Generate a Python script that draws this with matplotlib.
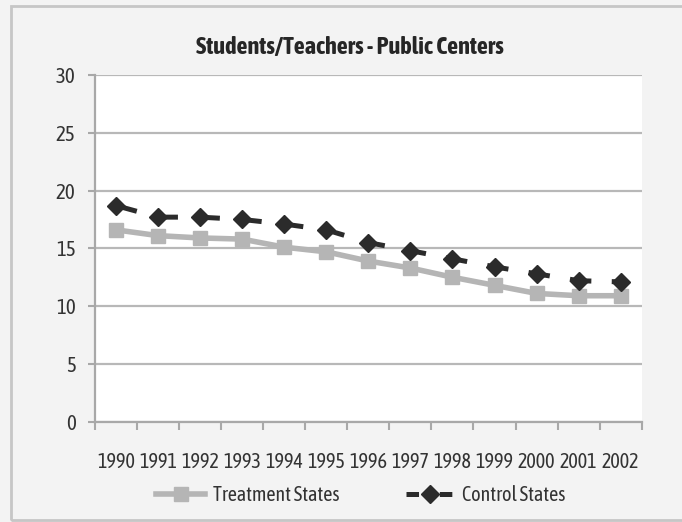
import matplotlib
matplotlib.use("Agg")
import matplotlib.pyplot as plt
import matplotlib.patches as patches
from matplotlib import font_manager

years = ["1990", "1991", "1992", "1993", "1994", "1995", "1996",
         "1997", "1998", "1999", "2000", "2001", "2002"]
treatment = [16.6, 16.1, 15.9, 15.8, 15.1, 14.7, 13.9,
             13.3, 12.5, 11.8, 11.1, 10.9, 10.9]
control = [18.7, 17.7, 17.7, 17.5, 17.1, 16.6, 15.5,
           14.8, 14.1, 13.4, 12.8, 12.2, 12.1]
y_ticks = [0, 5, 10, 15, 20, 25, 30]

# look for a narrow face with a bold weight (original is a condensed Calibri-like font)
weights = {}
for f in font_manager.fontManager.ttflist:
    if "Narrow" in f.name or "Condensed" in f.name:
        w = f.weight if isinstance(f.weight, int) else 400
        weights.setdefault(f.name, set()).add(w)
font = "Roboto"
for name, ws in weights.items():
    if max(ws) >= 700 and min(ws) <= 400:
        font = name
        break
else:
    if weights:
        font = list(weights)[0]
plt.rcParams['font.family'] = [font, 'DejaVu Sans']
plt.rcParams['lines.scale_dashes'] = False

fig = plt.figure(figsize=(6.82, 5.22), dpi=100, facecolor="#f3f3f3")
ax = fig.add_axes([95 / 682, 1 - 421.7 / 522, (641.7 - 95) / 682, (421.7 - 75) / 522])
ax.set_facecolor("white")

# outer chart border
fig.patches.append(patches.Rectangle((11 / 682, 1 - 520 / 522), 1.0, (520 - 6) / 522,
                                     transform=fig.transFigure, fill=False,
                                     edgecolor="#c6c6c6", linewidth=2))

x = list(range(len(years)))
ax.plot(x, treatment, color="#b5b5b5", linewidth=4, marker="s", markersize=10.5,
        label="Treatment States", zorder=3)
ax.plot(x, control, color="#2b2b2b", linewidth=3.6, marker="D", markersize=9,
        linestyle=(0, (15.5, 14.7)), label="Control States", zorder=4)

ax.set_ylim(0, 30)
ax.set_yticks(y_ticks)
ax.set_xlim(-0.5, len(years) - 0.5)
ax.set_xticks([i - 0.5 for i in range(len(years) + 1)])
ax.set_xticklabels([])
ax.set_xticks(x, minor=True)
ax.set_xticklabels(years, minor=True)
ax.tick_params(axis="x", which="major", length=6, width=1.5, color="#a8a8a8", direction="out")
ax.tick_params(axis="x", which="minor", length=0, pad=22, labelsize=14.5, labelcolor="#333333")
ax.tick_params(axis="y", length=5, width=1.5, color="#a8a8a8", pad=9, labelsize=15,
               labelcolor="#333333")

ax.grid(axis="y", color="#b8b8b8", linewidth=1.6)
ax.set_axisbelow(True)
for s in ["top", "right"]:
    ax.spines[s].set_visible(False)
for s in ["left", "bottom"]:
    ax.spines[s].set_color("#a8a8a8")
    ax.spines[s].set_linewidth(1.6)

fig.text(350 / 682, 1 - 47 / 522, "Students/Teachers - Public Centers", ha="center",
         va="center", fontsize=17.5, fontweight="bold", color="#262626")

leg = fig.legend(loc="center", bbox_to_anchor=(361 / 682, 1 - 495 / 522), ncol=2,
                 frameon=False, fontsize=14.5, handlelength=2.4, handletextpad=0.4,
                 columnspacing=3.3, labelcolor="#333333")
leg.get_lines()[1].set_linestyle((0, (9, 3)))

fig.savefig("out.png", dpi=100, facecolor=fig.get_facecolor())
